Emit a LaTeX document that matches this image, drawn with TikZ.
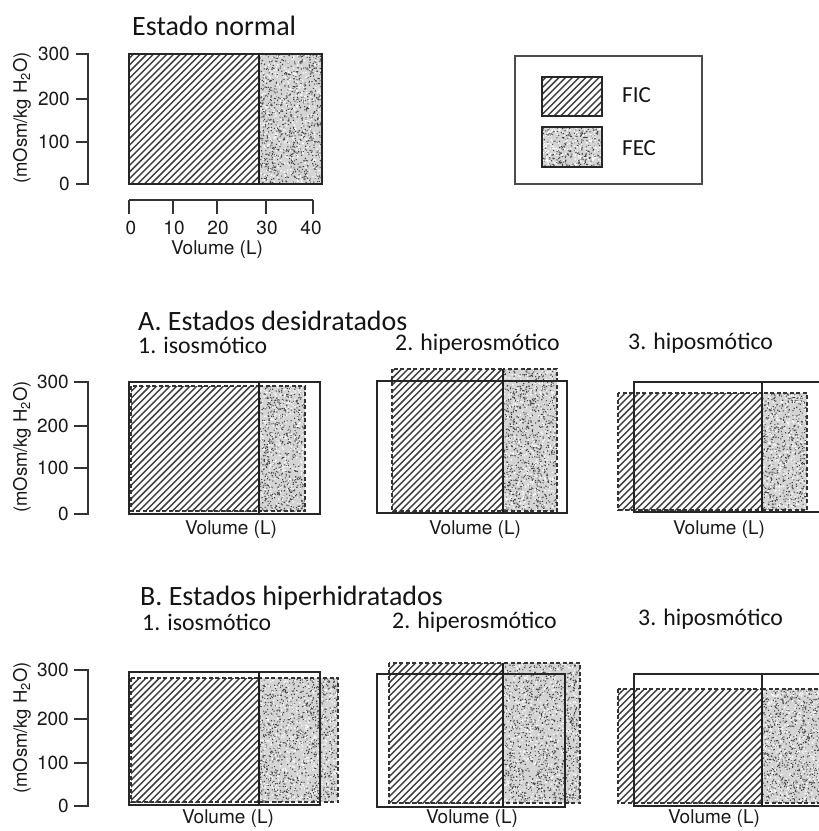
\documentclass[tikz,border=0pt]{standalone}
\usepackage{fontspec}
\setmainfont{Carlito}
\newfontfamily\axisfont{TeX Gyre Heros}

\tikzset{
  hatchline/.style={draw=black!75, line width=1.45pt},
  solidbox/.style={draw=black!85, line width=1.8pt},
  dashbox/.style={draw=black!80, line width=1.4pt, dash pattern=on 4pt off 2.5pt},
  divider/.style={draw=black!88, line width=2.8pt},
  thindiv/.style={draw=black!85, line width=1.6pt},
  axisline/.style={draw=black!80, line width=1.4pt},
  ticklab/.style={font=\axisfont\fontsize{19}{20}\selectfont, text=black!90, inner sep=0pt},
  ytitle/.style={font=\axisfont\fontsize{18.5}{20}\selectfont, text=black!90, inner sep=0pt, rotate=90},
  bigtitle/.style={font=\fontsize{28}{30}\selectfont, text=black!92, inner sep=0pt, anchor=base west},
  subtitle/.style={font=\fontsize{23.8}{26}\selectfont, text=black!92, inner sep=0pt, anchor=base west},
  legtext/.style={font=\fontsize{23}{25}\selectfont, text=black!92, inner sep=0pt, anchor=base west},
}

% hatch a rectangle with "/" lines: x1, y1 (top), x2, y2 (bottom)
\newcommand\hatchrect[4]{%
  \begin{scope}
    \clip (#1,#2) rectangle (#3,#4);
    \pgfmathtruncatemacro\klo{(#1+#2)/6.7-2}%
    \pgfmathtruncatemacro\khi{(#3+#4)/6.7+2}%
    \foreach \k in {\klo,...,\khi} {
      \pgfmathsetmacro\cc{\k*6.7}
      \draw[hatchline] ({\cc-#4-2},{#4+2}) -- ({\cc-#2+2},{#2-2});
    }
  \end{scope}}

% stipple a rectangle with random specks: x1, y1 (top), x2, y2 (bottom)
\newcommand\stiprect[4]{%
  \begin{scope}
    \clip (#1,#2) rectangle (#3,#4);
    \fill[black!17] (#1,#2) rectangle (#3,#4);
    \pgfmathsetmacro\sw{#3-#1}%
    \pgfmathsetmacro\sh{#4-#2}%
    \pgfmathtruncatemacro\nch{\sw*\sh/900+1}%
    \pgfmathtruncatemacro\nwc{\sw*\sh/2200+1}%
    \foreach \j in {1,...,\nch} {
      \fill[black!72] \foreach \i in {1,...,100} { ({#1+rnd*\sw},{#2+rnd*\sh}) rectangle ++(1.1,1.1) };
    }
    \foreach \j in {1,...,\nwc} {
      \fill[white] \foreach \i in {1,...,100} { ({#1+rnd*\sw},{#2+rnd*\sh}) rectangle ++(1.3,1.3) };
    }
  \end{scope}}

\begin{document}
\begin{tikzpicture}[x=1pt, y=-1pt]
\pgfmathsetseed{4242}
\clip (0,0) rectangle (819,831);
\fill[white] (0,0) rectangle (819,831);

% ===================== Estado normal =====================
\node[bigtitle] (tnormal) at (132,35) {Estado normal};
\hatchrect{129}{54}{259}{184}
\stiprect{259}{54}{322}{184}
\draw[solidbox] (129,54) rectangle (322,184);
\draw[divider] (259,54) -- (259,184);
% y axis
\draw[axisline] (76,54) -- (88,54) -- (88,184) -- (76,184);
\draw[axisline] (76,99) -- (88,99) (76,142) -- (88,142);
\node[ticklab, anchor=east] (n300) at (70,54) {300};
\node[ticklab, anchor=east] (n200) at (70,99) {200};
\node[ticklab, anchor=east] (n100) at (70,142) {100};
\node[ticklab, anchor=east] (n0) at (70,184) {0};
\node[ytitle] (nyt) at (22,118) {(mOsm/kg H\textsubscript{2}O)};
% x axis
\draw[axisline] (129,200) -- (313,200);
\foreach \xx in {129,173,217,266,313} \draw[axisline] (\xx,200) -- (\xx,214);
\node[ticklab] (x0) at (131,228) {0};
\node[ticklab] (x10) at (174,228) {10};
\node[ticklab] (x20) at (218,228) {20};
\node[ticklab] (x30) at (267,228) {30};
\node[ticklab] (x40) at (311,228) {40};
\node[ticklab] (nvol) at (217,250) {Volume (L)};

% ===================== Legend =====================
\draw[draw=black!70, line width=1.3pt] (515,56) rectangle (702,184);
\hatchrect{542}{77}{602}{116}
\draw[draw=black!85, line width=1.6pt] (542,77) rectangle (602,116);
\stiprect{542}{127}{602}{167}
\draw[draw=black!85, line width=1.6pt] (542,127) rectangle (602,167);
\node[legtext] (lfic) at (622,102) {FIC};
\node[legtext] (lfec) at (622,155) {FEC};

% ===================== A. Estados desidratados =====================
\node[bigtitle] (tA) at (138,330) {A. Estados desidratados};
\node[subtitle] (tA1) at (138,353) {1. isosmótico};
\node[subtitle] (tA2) at (395,350) {2. hiperosmótico};
\node[subtitle] (tA3) at (628,349) {3. hiposmótico};
% y axis
\draw[axisline] (74,382) -- (88,382) -- (88,514) -- (74,514);
\draw[axisline] (74,426) -- (88,426) (74,468) -- (88,468);
\node[ticklab, anchor=east] (a300) at (69,382) {300};
\node[ticklab, anchor=east] (a200) at (69,426) {200};
\node[ticklab, anchor=east] (a100) at (69,468) {100};
\node[ticklab, anchor=east] (a0) at (69,514) {0};
\node[ytitle] (ayt) at (22,447) {(mOsm/kg H\textsubscript{2}O)};
% A1
\hatchrect{131}{386}{259}{511}
\stiprect{259}{386}{305}{511}
\draw[dashbox] (131,386) rectangle (259,511);
\draw[dashbox] (259,386) rectangle (305,511);
\draw[solidbox] (129,382) rectangle (320,514);
\draw[divider] (259,382) -- (259,514);
\node[ticklab] (av1) at (231,530) {Volume (L)};
% A2
\hatchrect{392}{369}{503}{511}
\stiprect{503}{369}{557}{511}
\draw[dashbox] (392,369) rectangle (503,511);
\draw[dashbox] (503,369) rectangle (557,511);
\draw[solidbox] (377,381) rectangle (567,513);
\draw[divider] (503,369) -- (503,513);
\node[ticklab] (av2) at (475,530) {Volume (L)};
% A3
\hatchrect{618}{393}{762}{510}
\stiprect{762}{393}{807}{510}
\draw[dashbox] (618,393) rectangle (762,510);
\draw[dashbox] (762,393) rectangle (807,510);
\draw[solidbox] (634,382) rectangle (824,512);
\draw[thindiv] (762,382) -- (762,393);
\draw[divider] (762,393) -- (762,512);
\node[ticklab] (av3) at (719,530) {Volume (L)};

% ===================== B. Estados hiperhidratados =====================
\node[bigtitle] (tB) at (140,605) {B. Estados hiperhidratados};
\node[subtitle] (tB1) at (142,630) {1. isosmótico};
\node[subtitle] (tB2) at (392,628) {2. hiperosmótico};
\node[subtitle] (tB3) at (638,625) {3. hiposmótico};
% y axis
\draw[axisline] (74,670) -- (88,670) -- (88,806) -- (74,806);
\draw[axisline] (74,719) -- (88,719) (74,763) -- (88,763);
\node[ticklab, anchor=east] (b300) at (69,670) {300};
\node[ticklab, anchor=east] (b200) at (69,719) {200};
\node[ticklab, anchor=east] (b100) at (69,763) {100};
\node[ticklab, anchor=east] (b0) at (69,806) {0};
\node[ytitle] (byt) at (22,728) {(mOsm/kg H\textsubscript{2}O)};
% B1
\hatchrect{131}{678}{259}{802}
\stiprect{259}{678}{338}{802}
\draw[dashbox] (131,678) rectangle (259,802);
\draw[dashbox] (259,678) rectangle (338,802);
\draw[solidbox] (129,672) rectangle (320,805);
\draw[divider] (259,672) -- (259,805);
\node[ticklab] (bv1) at (228,819) {Volume (L)};
% B2
\hatchrect{389}{663}{503}{803}
\stiprect{503}{663}{580}{803}
\draw[dashbox] (389,663) rectangle (503,803);
\draw[dashbox] (503,663) rectangle (580,803);
\draw[solidbox] (377,674) rectangle (565,807);
\draw[divider] (503,663) -- (503,807);
\node[ticklab] (bv2) at (472,819) {Volume (L)};
% B3
\hatchrect{618}{689}{762}{803}
\stiprect{762}{689}{822}{803}
\draw[dashbox] (618,689) rectangle (762,803);
\draw[dashbox] (762,689) rectangle (832,803);
\draw[solidbox] (634,674) rectangle (824,806);
\draw[thindiv] (762,674) -- (762,689);
\draw[divider] (762,689) -- (762,806);
\node[ticklab] (bv3) at (714,819) {Volume (L)};
\end{tikzpicture}
\end{document}
